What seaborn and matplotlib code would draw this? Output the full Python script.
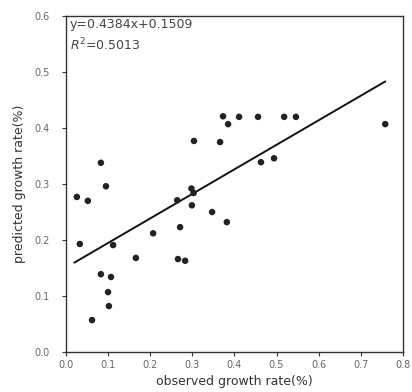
import matplotlib
matplotlib.use("Agg")
import matplotlib.pyplot as plt
import seaborn as sns
import numpy as np
import pandas as pd

observed = [0.083, 0.095, 0.026, 0.052, 0.033, 0.112, 0.166, 0.083, 0.107, 0.100,
            0.102, 0.062, 0.298, 0.303, 0.264, 0.299, 0.347, 0.382, 0.271, 0.207,
            0.266, 0.283, 0.373, 0.385, 0.411, 0.456, 0.518, 0.546, 0.758, 0.304,
            0.366, 0.463, 0.494]
predicted = [0.338, 0.296, 0.277, 0.270, 0.193, 0.191, 0.168, 0.139, 0.134, 0.107,
             0.082, 0.057, 0.292, 0.284, 0.271, 0.262, 0.250, 0.232, 0.223, 0.212,
             0.166, 0.163, 0.421, 0.407, 0.420, 0.420, 0.420, 0.420, 0.407, 0.377,
             0.375, 0.339, 0.346]
slope = 0.4384
intercept = 0.1509
r_squared = 0.5013
x_ticks = [0.0, 0.1, 0.2, 0.3, 0.4, 0.5, 0.6, 0.7, 0.8]
y_ticks = [0.0, 0.1, 0.2, 0.3, 0.4, 0.5, 0.6]

sns.set_theme(style="ticks")
plt.rcParams["font.family"] = ["DejaVu Sans"]

df = pd.DataFrame({"observed": observed, "predicted": predicted})
x_fit = np.array([0.02, max(observed)])
fit = pd.DataFrame({"x": x_fit, "y": slope * x_fit + intercept})

fig = plt.figure(figsize=(4.12, 3.92), dpi=100)
ax = fig.add_axes([0.160, 0.102, 0.818, 0.857])

sns.scatterplot(data=df, x="observed", y="predicted", ax=ax, color="#222222",
                s=22, marker="o", edgecolor="none", zorder=3)
sns.lineplot(data=fit, x="x", y="y", ax=ax, color="#111111", linewidth=1.4)

ax.set_xlim(0, 0.8)
ax.set_ylim(0, 0.6)
ax.set_xticks(x_ticks)
ax.set_yticks(y_ticks)
ax.set_xticklabels([f"{t:.1f}" for t in x_ticks], fontsize=7, color="#666666")
ax.set_yticklabels([f"{t:.1f}" for t in y_ticks], fontsize=7, color="#666666")
ax.tick_params(axis="x", length=3, width=0.8, color="#333333", pad=3)
ax.tick_params(axis="y", length=3, width=0.8, color="#333333", pad=9)
for sp in ax.spines.values():
    sp.set_visible(True)
    sp.set_color("#333333")
    sp.set_linewidth(1.0)

ax.set_xlabel("observed growth rate(%)", fontsize=9, color="#333333", labelpad=3)
ax.set_ylabel("predicted growth rate(%)", fontsize=9, color="#333333", labelpad=6)

ax.text(0.012, 0.993, f"y={slope:.4f}x+{intercept:.4f}", transform=ax.transAxes,
        fontsize=9, color="#444444", va="top", ha="left")
ax.text(0.012, 0.938, f"$R^2$={r_squared:.4f}", transform=ax.transAxes,
        fontsize=9, color="#444444", va="top", ha="left")

fig.savefig("out.png", dpi=100)
